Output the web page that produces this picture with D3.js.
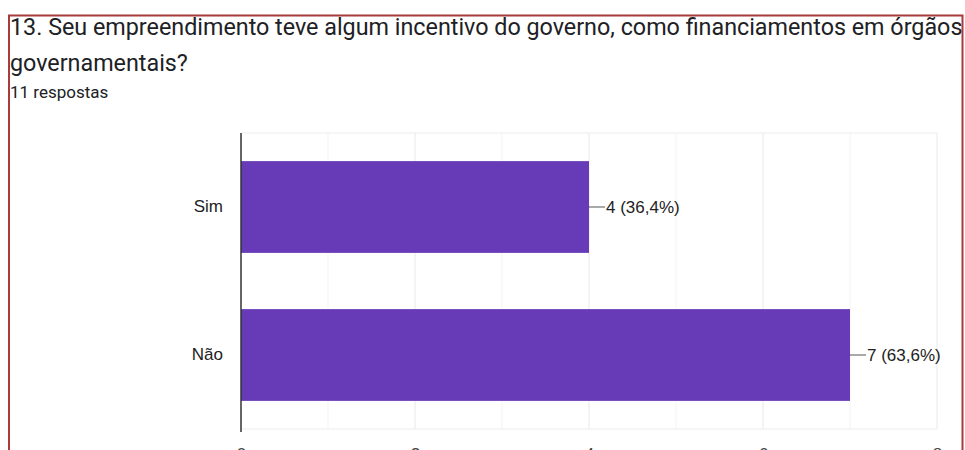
<!DOCTYPE html>
<html>
<head>
<meta charset="utf-8">
<script src="https://cdn.jsdelivr.net/npm/d3@7"></script>
<style>
  html, body { margin: 0; padding: 0; background: #fff; }
  svg { display: block; }
</style>
</head>
<body>
<svg id="chart" width="965" height="450"></svg>
<script>
// Survey question 13 – responses
const titleLines = [
  "13. Seu empreendimento teve algum incentivo do governo, como financiamentos em órgãos",
  "governamentais?"
];
const responsesLabel = "11 respostas";
const categories = ["Sim", "Não"];
const counts = [4, 7];
const percents = ["36,4%", "63,6%"];
const xTicks = [0, 2, 4, 6, 8];
const xMinorTicks = [1, 3, 5, 7];

const svg = d3.select("#chart");
const W = 965, H = 450;

// Plot area
const plot = { left: 241, right: 937, top: 133, bottom: 429 };

const x = d3.scaleLinear().domain([0, 8]).range([plot.left, plot.right]);
const y = d3.scaleBand().domain(categories).range([plot.top, plot.bottom]).paddingInner(0.38).paddingOuter(0.19);

// Gridlines
const gGrid = svg.append("g");
gGrid.selectAll("line.minor").data(xMinorTicks).join("line")
  .attr("x1", d => x(d)).attr("x2", d => x(d))
  .attr("y1", plot.top).attr("y2", plot.bottom)
  .attr("stroke", "#f3f3f3").attr("stroke-width", 1);
gGrid.selectAll("line.major").data(xTicks.filter(d => d > 0)).join("line")
  .attr("x1", d => x(d)).attr("x2", d => x(d))
  .attr("y1", plot.top).attr("y2", plot.bottom)
  .attr("stroke", "#e8e8e8").attr("stroke-width", 1);
gGrid.append("line")
  .attr("x1", plot.left).attr("x2", plot.right)
  .attr("y1", plot.top).attr("y2", plot.top)
  .attr("stroke", "#ececec");
gGrid.append("line")
  .attr("x1", plot.left).attr("x2", plot.right)
  .attr("y1", plot.bottom).attr("y2", plot.bottom)
  .attr("stroke", "#ececec");

// Bars
const data = categories.map((c, i) => ({ cat: c, v: counts[i], p: percents[i] }));
svg.append("g").selectAll("rect").data(data).join("rect")
  .attr("x", x(0))
  .attr("y", d => y(d.cat))
  .attr("width", d => x(d.v) - x(0))
  .attr("height", y.bandwidth())
  .attr("fill", "#673ab7");

// Value labels with leader lines
const gLab = svg.append("g");
gLab.selectAll("line").data(data).join("line")
  .attr("x1", d => x(d.v)).attr("x2", d => x(d.v) + 16)
  .attr("y1", d => y(d.cat) + y.bandwidth() / 2)
  .attr("y2", d => y(d.cat) + y.bandwidth() / 2)
  .attr("stroke", "#555").attr("stroke-width", 1);
gLab.selectAll("text").data(data).join("text")
  .attr("x", d => x(d.v) + 17)
  .attr("y", d => y(d.cat) + y.bandwidth() / 2)
  .attr("dy", "0.35em")
  .attr("font-family", "Liberation Sans, Arial, sans-serif")
  .attr("font-size", 17)
  .attr("fill", "#222")
  .text(d => `${d.v} (${d.p})`);

// Category axis
const yAxis = svg.append("g")
  .attr("transform", `translate(${plot.left},0)`)
  .call(d3.axisLeft(y).tickSize(0).tickPadding(18));
yAxis.select(".domain").remove();
yAxis.selectAll("text")
  .attr("font-family", "Liberation Sans, Arial, sans-serif")
  .attr("font-size", 17)
  .attr("fill", "#222");
svg.append("line")
  .attr("x1", plot.left).attr("x2", plot.left)
  .attr("y1", plot.top).attr("y2", plot.bottom + 3)
  .attr("stroke", "#333").attr("stroke-width", 1.5);

// Value axis (labels sit at the lower edge of the view)
const xAxis = svg.append("g")
  .attr("transform", `translate(0,${plot.bottom})`)
  .call(d3.axisBottom(x).tickValues(xTicks).tickSize(0).tickPadding(19).tickFormat(d3.format("d")));
xAxis.select(".domain").remove();
xAxis.selectAll("text")
  .attr("font-family", "Liberation Sans, Arial, sans-serif")
  .attr("font-size", 17)
  .attr("fill", "#444");

// Title block
const title = svg.append("g");
const t1 = title.append("text")
  .attr("x", 10).attr("y", 35)
  .attr("font-family", "Roboto, sans-serif")
  .attr("font-size", 23)
  .attr("fill", "#202124")
  .text(titleLines[0]);
const w1 = t1.node().getComputedTextLength();
const fs = 23 * 953 / w1;
t1.attr("font-size", fs);
title.append("text")
  .attr("x", 10).attr("y", 71)
  .attr("font-family", "Roboto, sans-serif")
  .attr("font-size", fs)
  .attr("fill", "#202124")
  .text(titleLines[1]);
title.append("text")
  .attr("x", 10).attr("y", 98)
  .attr("font-family", "Roboto, sans-serif")
  .attr("font-size", 17)
  .attr("fill", "#202124")
  .text(responsesLabel);

// Frame
svg.append("path")
  .attr("d", `M9,${H + 5} V15.5 H962.5 V${H + 5}`)
  .attr("fill", "none")
  .attr("stroke", "#a83b3b")
  .attr("stroke-width", 2);
</script>
</body>
</html>
